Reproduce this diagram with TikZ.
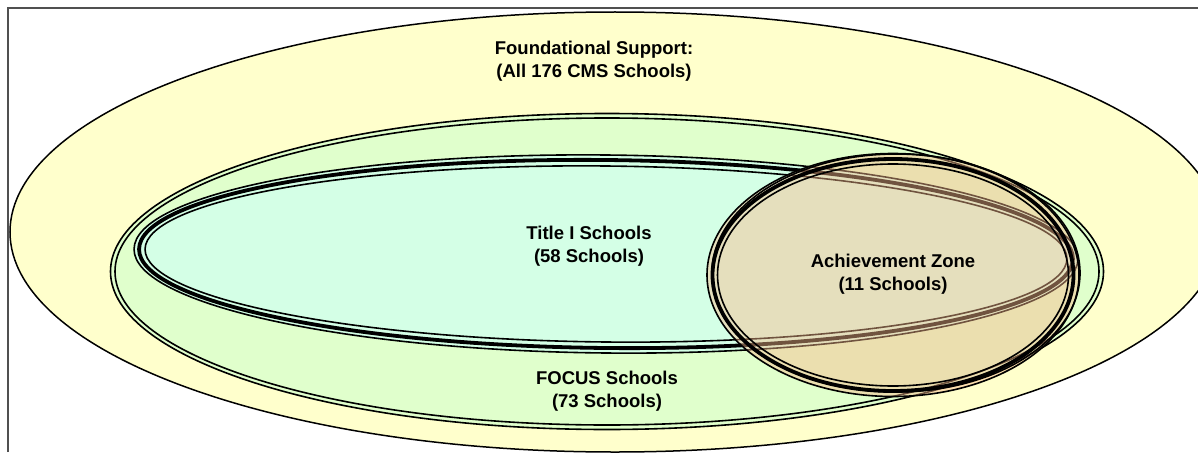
\documentclass[tikz,border=0pt]{standalone}
\usepackage{fontspec}
\setmainfont{Liberation Sans}
\definecolor{allfill}{RGB}{255,255,204}
\definecolor{focusfill}{RGB}{224,255,204}
\definecolor{titlefill}{RGB}{212,255,230}
\definecolor{zonefill}{RGB}{250,185,140}
\definecolor{framegray}{RGB}{80,80,80}
\begin{document}
\begin{tikzpicture}[x=1pt,y=-1pt,
  labeltext/.style={font=\fontsize{18.5}{23}\selectfont\bfseries, align=center, text=black, inner sep=0pt},
  thinring/.style={draw=black, line width=1.6pt},
  thickring/.style={draw=black, line width=3.8pt},
]
\useasboundingbox (0,0) rectangle (1198,452);
\clip (0,0) rectangle (1198,452);

% outer set: all schools
\path[fill=allfill, draw=black, line width=1.5pt]
  (615,232) ellipse [x radius=605pt, y radius=220pt];

% frame lines along the left and top edges
\draw[framegray, line width=1.7pt] (8,452) -- (8,8) -- (1198,8);

% FOCUS schools, double outline
\fill[focusfill] (607,271.5) ellipse [x radius=497pt, y radius=158.5pt];
\draw[thinring] (607,271.5) ellipse [x radius=496.5pt, y radius=158pt];
\draw[thinring] (607,271.5) ellipse [x radius=492pt, y radius=153.5pt];

% Title I schools, thin-thick-thin outline
\begin{scope}[rotate around={-0.6:(606,254)}]
  \fill[titlefill] (606,254) ellipse [x radius=472pt, y radius=99pt];
  \draw[thinring]  (606,254) ellipse [x radius=472pt, y radius=99pt];
  \draw[thickring] (606,254) ellipse [x radius=467pt, y radius=94pt];
  \draw[thinring]  (606,254) ellipse [x radius=461pt, y radius=88pt];
\end{scope}

% Achievement Zone, translucent fill over the rings below
\fill[zonefill, fill opacity=0.45] (893,275) ellipse [x radius=186pt, y radius=121.5pt];
\draw[thinring]  (893,275) ellipse [x radius=186pt, y radius=121.5pt];
\draw[thinring]  (896,273) ellipse [x radius=184pt, y radius=119pt];
\draw[thickring] (893,275) ellipse [x radius=180.5pt, y radius=116pt];
\draw[thinring]  (893,275) ellipse [x radius=175.5pt, y radius=111pt];

% labels
\node[labeltext] (all)   at (594,61)  {Foundational Support:\\(All 176 CMS Schools)};
\node[labeltext] (title) at (589,246) {Title I Schools\\(58 Schools)};
\node[labeltext] (zone)  at (893,274) {Achievement Zone\\(11 Schools)};
\node[labeltext] (focus) at (607,391) {FOCUS Schools\\(73 Schools)};
\end{tikzpicture}
\end{document}
